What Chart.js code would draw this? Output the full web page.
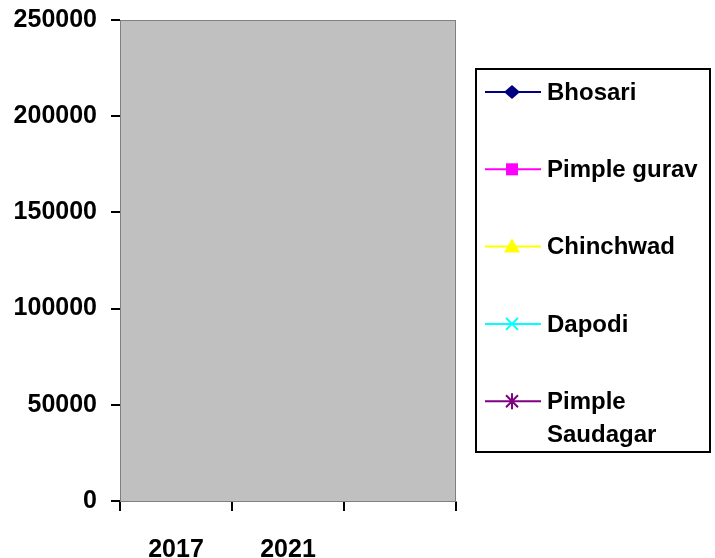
<!DOCTYPE html>
<html>
<head>
<meta charset="utf-8">
<script src="https://cdn.jsdelivr.net/npm/chart.js@4/dist/chart.umd.min.js"></script>
<style>
    html, body { margin: 0; padding: 0; background: #fff; }
    #wrap { position: relative; width: 715px; height: 558px; }
</style>
</head>
<body>
<div id="wrap"><canvas id="myChart" width="715" height="558"></canvas></div>
<script>
// chart data
const years = ['2017', '2021', ''];
const yTicks = [0, 50000, 100000, 150000, 200000, 250000];
const bhosari = [null, null, null];
const pimpleGurav = [null, null, null];
const chinchwad = [null, null, null];
const dapodi = [null, null, null];
const pimpleSaudagar = [null, null, null];

const seriesNames = ['Bhosari', 'Pimple gurav', 'Chinchwad', 'Dapodi', 'Pimple Saudagar'];
const seriesColors = ['#000080', '#FF00FF', '#FFFF00', '#00FFFF', '#800080'];
const seriesMarkers = ['rectRot', 'rect', 'triangle', 'crossRot', 'star'];
const seriesValues = [bhosari, pimpleGurav, chinchwad, dapodi, pimpleSaudagar];

const FONT = '"Liberation Sans", Arial, sans-serif';

// draws one legend marker
function drawMarker(ctx, style, x, y, color) {
    ctx.save();
    ctx.fillStyle = color;
    ctx.strokeStyle = color;
    ctx.lineWidth = 2;
    ctx.beginPath();
    if (style === 'rectRot') {
        ctx.moveTo(x, y - 7); ctx.lineTo(x + 8, y); ctx.lineTo(x, y + 7); ctx.lineTo(x - 8, y);
        ctx.closePath(); ctx.fill();
    } else if (style === 'rect') {
        ctx.fillRect(x - 6, y - 6, 12, 12);
    } else if (style === 'triangle') {
        ctx.moveTo(x, y - 8); ctx.lineTo(x + 8, y + 6); ctx.lineTo(x - 8, y + 6);
        ctx.closePath(); ctx.fill();
    } else if (style === 'crossRot') {
        ctx.moveTo(x - 6, y - 6); ctx.lineTo(x + 6, y + 6);
        ctx.moveTo(x + 6, y - 6); ctx.lineTo(x - 6, y + 6);
        ctx.stroke();
    } else if (style === 'star') {
        ctx.moveTo(x - 6, y - 6); ctx.lineTo(x + 6, y + 6);
        ctx.moveTo(x + 6, y - 6); ctx.lineTo(x - 6, y + 6);
        ctx.moveTo(x, y - 8); ctx.lineTo(x, y + 8);
        ctx.stroke();
    }
    ctx.restore();
}

const plotBackground = {
    id: 'plotBackground',
    beforeDraw(chart) {
        const { ctx, chartArea: a } = chart;
        ctx.save();
        ctx.fillStyle = '#C0C0C0';
        ctx.fillRect(a.left, a.top, a.right - a.left, a.bottom - a.top);
        ctx.strokeStyle = '#808080';
        ctx.lineWidth = 1;
        ctx.strokeRect(a.left + 0.5, a.top + 0.5, a.right - a.left - 1, a.bottom - a.top);
        ctx.restore();
    }
};

const boxLegend = {
    id: 'boxLegend',
    afterDraw(chart) {
        const ctx = chart.ctx;
        const box = { left: 476, top: 69, right: 710, bottom: 452 };
        ctx.save();
        ctx.strokeStyle = '#000';
        ctx.lineWidth = 2;
        ctx.strokeRect(box.left, box.top, box.right - box.left, box.bottom - box.top);
        ctx.font = 'bold 24px ' + FONT;
        ctx.textBaseline = 'middle';
        ctx.fillStyle = '#000';
        chart.data.datasets.forEach((ds, i) => {
            const y = 92 + i * 77.3;
            ctx.strokeStyle = ds.borderColor;
            ctx.lineWidth = 2;
            ctx.beginPath();
            ctx.moveTo(485, y);
            ctx.lineTo(541, y);
            ctx.stroke();
            drawMarker(ctx, ds.pointStyle, 512, y, ds.borderColor);
            // wrap text that does not fit the box
            const maxW = box.right - 547 - 4;
            let lines = [ds.label];
            if (ctx.measureText(ds.label).width > maxW) lines = ds.label.split(' ');
            ctx.fillStyle = '#000';
            lines.forEach((t, j) => ctx.fillText(t, 547, y + 1 + j * 33));
        });
        ctx.restore();
    }
};

const ctx = document.getElementById('myChart').getContext('2d');
new Chart(ctx, {
    type: 'line',
    data: {
        labels: years,
        datasets: seriesNames.map((name, i) => ({
            label: name,
            data: seriesValues[i],
            borderColor: seriesColors[i],
            backgroundColor: seriesColors[i],
            pointStyle: seriesMarkers[i],
            borderWidth: 2,
            pointRadius: 6
        }))
    },
    options: {
        responsive: false,
        animation: false,
        layout: { padding: { left: 0, right: 259, top: 20, bottom: 0 } },
        plugins: {
            legend: { display: false },
            tooltip: { enabled: false }
        },
        scales: {
            x: {
                offset: true,
                afterFit(scale) { scale.height = 57; },
                grid: {
                    offset: true,
                    drawOnChartArea: false,
                    tickLength: 10,
                    color: '#000',
                    lineWidth: 2
                },
                border: { color: '#808080', width: 1 },
                ticks: {
                    color: '#000',
                    padding: 24,
                    maxRotation: 0,
                    font: { family: FONT, size: 25, weight: 'bold' }
                }
            },
            y: {
                min: 0,
                max: 250000,
                afterFit(scale) {
                    scale.width = 120;
                    scale.paddingTop = 0;
                    scale.paddingBottom = 0;
                },
                afterBuildTicks(scale) { scale.ticks = yTicks.map(v => ({ value: v })); },
                grid: {
                    drawOnChartArea: false,
                    tickLength: 9,
                    color: '#000',
                    lineWidth: 2
                },
                border: { color: '#808080', width: 1 },
                ticks: {
                    color: '#000',
                    padding: 14,
                    callback: v => String(v),
                    font: { family: FONT, size: 25, weight: 'bold' }
                }
            }
        }
    },
    plugins: [plotBackground, boxLegend]
});
</script>
</body>
</html>
